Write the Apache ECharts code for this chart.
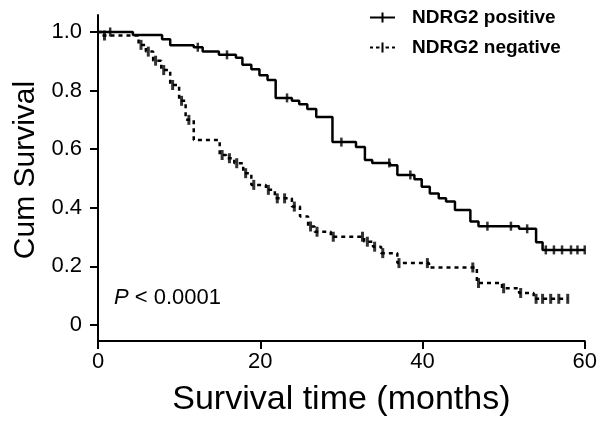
<!DOCTYPE html>
<html>
<head>
<meta charset="utf-8">
<script src="https://cdn.jsdelivr.net/npm/echarts@6/dist/echarts.min.js"></script>
<style>html,body{margin:0;padding:0;background:#fff;}#c{width:600px;height:422px;}</style>
</head>
<body>
<div id="c"></div>
<script>
// Kaplan-Meier steps: time of drop (months) and survival after the drop
const posTimes = [0, 4.3, 7.9, 8.9, 11.8, 12.9, 14.9, 17.0, 17.8, 18.9, 19.9, 20.9, 21.9, 23.9, 24.8, 25.8, 26.9, 28.9, 31.8, 32.9, 33.8, 36.0, 36.9, 39.0, 39.9, 40.9, 42.0, 42.9, 44.0, 45.9, 46.9, 51.9, 54.0, 54.8];
const posSurv  = [1.0, 0.99, 0.975, 0.955, 0.948, 0.933, 0.922, 0.912, 0.888, 0.873, 0.852, 0.836, 0.775, 0.765, 0.753, 0.737, 0.71, 0.624, 0.607, 0.563, 0.553, 0.545, 0.512, 0.497, 0.472, 0.449, 0.432, 0.421, 0.392, 0.353, 0.337, 0.328, 0.282, 0.256];
const posEnd = 60;
const posCensor = [1.5, 12.3, 15.9, 23.3, 30.0, 35.9, 38.5, 48.0, 50.9, 52.9, 55.2, 56.2, 57.2, 58.3, 59.1, 60.0];

const negTimes = [0, 0.5, 5.0, 5.9, 6.8, 7.8, 8.9, 10.0, 10.8, 11.8, 15.0, 15.8, 16.8, 17.9, 18.9, 20.7, 21.8, 23.9, 24.9, 25.9, 26.7, 28.7, 32.8, 33.9, 34.9, 36.9, 40.8, 46.7, 49.8, 51.9, 53.7];
const negSurv  = [1.0, 0.988, 0.956, 0.933, 0.902, 0.87, 0.819, 0.765, 0.70, 0.631, 0.58, 0.569, 0.552, 0.518, 0.478, 0.461, 0.432, 0.404, 0.37, 0.336, 0.318, 0.301, 0.284, 0.267, 0.245, 0.211, 0.196, 0.143, 0.125, 0.109, 0.089];
const negEnd = 57.9;
const negCensor = [0.8, 5.3, 6.2, 7.1, 8.1, 9.2, 10.3, 11.2, 15.3, 16.2, 17.1, 18.2, 19.2, 21.0, 22.1, 23.0, 24.2, 26.2, 27.0, 29.0, 32.6, 33.2, 34.1, 35.1, 37.1, 40.6, 46.2, 46.9, 50.0, 52.1, 54.0, 54.8, 55.8, 56.8, 57.9];

const seriesNames = ['NDRG2 positive', 'NDRG2 negative'];
const yTicks = [0, 0.2, 0.4, 0.6, 0.8, 1.0];
const xTicks = [0, 20, 40, 60];

function stepData(times, surv, end) {
  const d = times.map((t, i) => [t, surv[i]]);
  d.push([end, surv[surv.length - 1]]);
  return d;
}
function survAt(times, surv, t) {
  let v = surv[0];
  for (let i = 0; i < times.length; i++) { if (times[i] <= t) v = surv[i]; }
  return v;
}
function censorData(times, surv, cens) {
  return cens.map(t => [t, survAt(times, surv, t)]);
}

const FONT = '"Liberation Sans", Arial, Helvetica, sans-serif';
// tiny, practically invisible point at x=37 widens the icon box so text starts further right
const pad = ' M36.9,5L37,5L37,5.02L36.9,5.02Z';
const chart = echarts.init(document.getElementById('c'), null, {renderer: 'canvas'});
chart.setOption({
  animation: false,
  backgroundColor: '#fff',
  grid: {left: 98, right: 14, top: 15, bottom: 81},
  legend: {
    orient: 'vertical', left: 365, top: 3,
    itemWidth: 37, itemHeight: 10, itemGap: 11,
    textStyle: {fontFamily: FONT, fontSize: 19, fontWeight: 'bold', color: '#000'},
    data: [
      {name: seriesNames[0], icon: 'path://M0,4L25,4L25,6L0,6Z M11.5,0L13.5,0L13.5,10L11.5,10Z' + pad},
      {name: seriesNames[1], icon: 'path://M0,4L3,4L3,6L0,6Z M6,4L9.5,4L9.5,6L6,6Z M11.5,0L13.5,0L13.5,10L11.5,10Z M15.5,4L19,4L19,6L15.5,6Z M22,4L25,4L25,6L22,6Z' + pad}
    ]
  },
  xAxis: {
    type: 'value', min: xTicks[0], max: xTicks[xTicks.length - 1], interval: 20,
    name: 'Survival time (months)', nameLocation: 'middle', nameGap: 42,
    nameTextStyle: {fontFamily: FONT, fontSize: 34, color: '#000'},
    axisLine: {onZero: false, lineStyle: {color: '#000', width: 2}},
    axisTick: {show: true, length: 8, lineStyle: {color: '#000', width: 2}},
    axisLabel: {fontFamily: FONT, fontSize: 22, color: '#000', margin: 10},
    splitLine: {show: false}
  },
  yAxis: {
    type: 'value', min: -0.055, max: 1.058,
    name: 'Cum Survival', nameLocation: 'middle', nameGap: 57,
    nameTextStyle: {fontFamily: FONT, fontSize: 30, color: '#000', padding: [0, 0, 0, 16]},
    axisLine: {show: true, lineStyle: {color: '#000', width: 2}},
    axisTick: {show: true, length: 8, customValues: yTicks, lineStyle: {color: '#000', width: 2}},
    axisLabel: {fontFamily: FONT, fontSize: 22, color: '#000', margin: 16, customValues: yTicks,
      formatter: v => (v === 0 ? '0' : v.toFixed(1))},
    splitLine: {show: false}
  },
  graphic: [{
    type: 'text', left: 114, top: 287,
    style: {
      text: '{i|P} < 0.0001', fontFamily: FONT, fontSize: 22, fill: '#000',
      rich: {i: {fontStyle: 'italic', fontFamily: FONT, fontSize: 22, fill: '#000'}}
    }
  }],
  series: [
    {type: 'line', name: seriesNames[0], step: 'end', symbol: 'none', color: '#000',
      data: stepData(posTimes, posSurv, posEnd), lineStyle: {color: '#000', width: 2.5}, z: 3},
    {type: 'line', name: seriesNames[1], step: 'end', symbol: 'none', color: '#000',
      data: stepData(negTimes, negSurv, negEnd), lineStyle: {color: '#000', width: 2.5, type: [4, 4]}, z: 3},
    {type: 'scatter', name: seriesNames[0] + ' censored', symbol: 'rect', symbolSize: [2.5, 9],
      itemStyle: {color: '#000'}, data: censorData(posTimes, posSurv, posCensor), z: 4, silent: true},
    {type: 'scatter', name: seriesNames[1] + ' censored', symbol: 'rect', symbolSize: [3, 10],
      itemStyle: {color: '#000'}, data: censorData(negTimes, negSurv, negCensor), z: 4, silent: true}
  ]
});
</script>
</body>
</html>
